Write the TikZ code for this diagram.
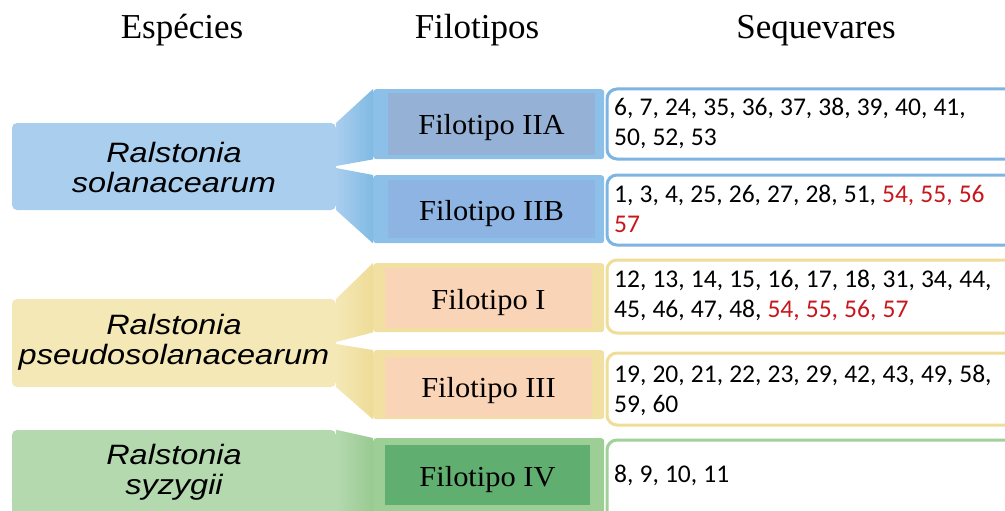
\documentclass[tikz,border=0pt]{standalone}
\usepackage{fontspec}
\setmainfont{Liberation Serif}
\newfontfamily\spfont[FakeStretch=1.16]{Liberation Sans}
\newfontfamily\ftfont[FakeStretch=1.05]{Liberation Serif}
\newfontfamily\sqfont{Carlito}
\definecolor{blueSp}{HTML}{A9CEEE}
\definecolor{blueFun}{HTML}{80BAE3}
\definecolor{blueWrap}{HTML}{8CC0E8}
\definecolor{blueInA}{HTML}{95B1D6}
\definecolor{blueInB}{HTML}{8EB4E3}
\definecolor{blueBd}{HTML}{7DB4E2}
\definecolor{yelSp}{HTML}{F4E8B6}
\definecolor{yelFun}{HTML}{EEDC97}
\definecolor{yelWrap}{HTML}{F1E0A1}
\definecolor{yelIn}{HTML}{FAD4B6}
\definecolor{yelBd}{HTML}{EFDD98}
\definecolor{grnSp}{HTML}{B4D9AF}
\definecolor{grnFun}{HTML}{99CA91}
\definecolor{grnWrap}{HTML}{9DCE95}
\definecolor{grnIn}{HTML}{60AF70}
\definecolor{grnBd}{HTML}{A2D09A}
\definecolor{seqred}{HTML}{C8161D}
\newcommand{\rd}[1]{\textcolor{seqred}{#1}}
\newcommand{\sqsp}{\spaceskip=0.24em\relax}
\tikzset{
  spbox/.style={rectangle, rounded corners=5pt, inner sep=0pt, minimum width=324pt},
  wrapbox/.style={rectangle, rounded corners=3pt, inner sep=0pt, minimum width=231pt},
  inbox/.style={rectangle, inner sep=0pt, text height=22pt, text depth=0pt,
    font=\ftfont\fontsize{29}{31}\selectfont},
  seqbox/.style={rectangle, draw, fill=white, line width=3pt, rounded corners=10pt, inner sep=0pt},
  sptext/.style={font=\spfont\itshape\fontsize{28}{30}\selectfont, text width=330pt, align=center, anchor=base, inner sep=0pt},
  sqtext/.style={font=\sqfont\fontsize{25.5}{30.5}\selectfont, text width=400pt, align=left, anchor=base west, inner sep=0pt},
  head/.style={font=\fontsize{35}{42}\selectfont, anchor=base, inner sep=0pt}
}
\begin{document}
\begin{tikzpicture}[x=1pt,y=-1pt]
\useasboundingbox (0,0) rectangle (1005,511);
\clip (0,0) rectangle (1005,511);

% headers
\node[head] (hEsp) at (182,39) {Espécies};
\node[head] (hFil) at (477,39) {Filotipos};
\node[head] (hSeq) at (816,39) {Sequevares};

% species boxes
\node[spbox, fill=blueSp, minimum height=87pt] (spA) at (174,166.5) {};
\node[spbox, fill=yelSp, minimum height=88pt] (spB) at (174,343) {};
\node[spbox, fill=grnSp, minimum height=95pt] (spC) at (174,477.5) {};

% wrap boxes
\node[wrapbox, fill=blueWrap, minimum height=70pt, anchor=north west] (wIIA) at (373,89) {};
\node[wrapbox, fill=blueWrap, minimum height=68pt, anchor=north west] (wIIB) at (373,175) {};
\node[wrapbox, fill=yelWrap, minimum height=69pt, anchor=north west] (wI) at (373,263) {};
\node[wrapbox, fill=yelWrap, minimum height=69pt, anchor=north west] (wIII) at (373,350) {};
\node[wrapbox, fill=grnWrap, minimum height=82pt, anchor=north west] (wIV) at (373,438) {};

% funnels
\shade[left color=blueSp, right color=blueFun] (spA.north east) -- (wIIA.north west) -- (wIIA.south west) -- (336,166) -- cycle;
\shade[left color=blueSp, right color=blueFun] (336,168) -- (wIIB.north west) -- (wIIB.south west) -- (spA.south east) -- cycle;
\shade[left color=yelSp, right color=yelFun] (spB.north east) -- (wI.north west) -- (wI.south west) -- (336,342) -- cycle;
\shade[left color=yelSp, right color=yelFun] (336,344) -- (wIII.north west) -- (wIII.south west) -- (spB.south east) -- cycle;
\shade[left color=grnSp, right color=grnFun] (spC.north east) -- (wIV.north west) -- (wIV.south west) -- (spC.south east) -- cycle;

% sequevar boxes
\node[seqbox, draw=blueBd, minimum width=425pt, minimum height=70pt, anchor=north west] (sIIA) at (605.5,87.5) {};
\node[seqbox, draw=blueBd, minimum width=425pt, minimum height=70pt, anchor=north west] (sIIB) at (605.5,173.5) {};
\node[seqbox, draw=yelBd, minimum width=425pt, minimum height=73pt, anchor=north west] (sI) at (605.5,258.5) {};
\node[seqbox, draw=yelBd, minimum width=425pt, minimum height=72pt, anchor=north west] (sIII) at (605.5,351.5) {};
\node[seqbox, draw=grnBd, minimum width=425pt, minimum height=90pt, anchor=north west] (sIV) at (605.5,438.5) {};

% filotipo inner boxes
\node[inbox, fill=blueInA, minimum width=207pt, minimum height=62pt] (fIIA) at (491.5,124) {Filotipo IIA};
\node[inbox, fill=blueInB, minimum width=207pt, minimum height=58pt] (fIIB) at (491.5,209) {Filotipo IIB};
\node[inbox, fill=yelIn, minimum width=207pt, minimum height=60pt] (fI) at (488.5,298) {Filotipo I};
\node[inbox, fill=yelIn, minimum width=207pt, minimum height=60pt] (fIII) at (488.5,386.5) {Filotipo III};
\node[inbox, fill=grnIn, minimum width=205pt, minimum height=60pt] (fIV) at (487.5,475) {Filotipo IV};

% species text
\node[sptext] (tA) at (174,162) {Ralstonia\\solanacearum};
\node[sptext] (tB) at (174,334) {Ralstonia\\pseudosolanacearum};
\node[sptext] (tC) at (174,464) {Ralstonia\\syzygii};

% sequevar text
\node[sqtext] (qIIA) at (614,115) {\sqsp 6, 7, 24, 35, 36, 37, 38, 39, 40, 41,\\50, 52, 53};
\node[sqtext] (qIIB) at (614,202) {\sqsp 1, 3, 4, 25, 26, 27, 28, 51, \rd{54, 55, 56}\\\rd{57}};
\node[sqtext] (qI) at (614,287) {\sqsp 12, 13, 14, 15, 16, 17, 18, 31, 34, 44,\\45, 46, 47, 48, \rd{54, 55, 56, 57}};
\node[sqtext] (qIII) at (614,382) {\sqsp 19, 20, 21, 22, 23, 29, 42, 43, 49, 58,\\59, 60};
\node[sqtext] (qIV) at (614,482) {\sqsp 8, 9, 10, 11};
\end{tikzpicture}
\end{document}
